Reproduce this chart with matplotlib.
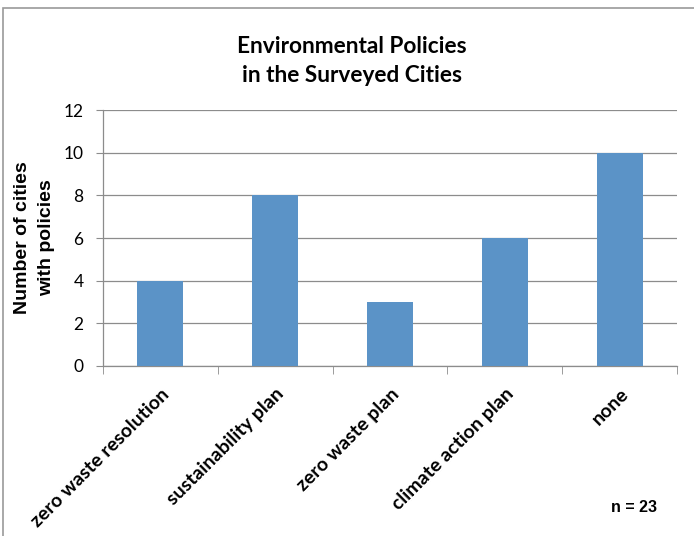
import numpy as np
import matplotlib.pyplot as plt
from matplotlib.patches import Rectangle
from matplotlib.ticker import FixedLocator

# data
categories = ["zero waste resolution", "sustainability plan", "zero waste plan",
              "climate action plan", "none"]
counts = [4, 8, 3, 6, 10]
y_ticks = [0, 2, 4, 6, 8, 10, 12]

BAR_COLOR = "#5b93c7"
GRID_COLOR = "#8c8c8c"

fig = plt.figure(figsize=(6.94, 5.36), dpi=100)
ax = fig.add_axes([103 / 694, 1 - 366 / 536, 574 / 694, 256 / 536])

x = np.arange(len(categories))
ax.bar(x, counts, width=0.40, color=BAR_COLOR, zorder=3)

ax.set_xlim(-0.5, len(categories) - 0.5)
ax.set_ylim(0, 12)
ax.set_yticks(y_ticks)
ax.set_yticklabels([str(t) for t in y_ticks], family="Lato", fontsize=12.5)
ax.yaxis.grid(True, color=GRID_COLOR, linewidth=0.9, zorder=0)

# category labels on major ticks (no marks), boundary ticks as minor
ax.set_xticks(x)
ax.set_xticklabels(categories, rotation=45, ha="right", rotation_mode="anchor",
                   family="Lato", fontweight="bold", fontsize=14)
ax.tick_params(axis="x", which="major", length=0, pad=14)
ax.xaxis.set_minor_locator(FixedLocator(np.arange(-0.5, len(categories), 1.0)))
ax.tick_params(axis="x", which="minor", length=6, color=GRID_COLOR, direction="out")
ax.tick_params(axis="y", length=5, color=GRID_COLOR, direction="out", pad=9)

for s in ["top", "right"]:
    ax.spines[s].set_visible(False)
for s in ["left", "bottom"]:
    ax.spines[s].set_color(GRID_COLOR)
    ax.spines[s].set_linewidth(0.9)

ax.set_ylabel("Number of cities\nwith policies", family="Liberation Sans",
              fontweight="bold", fontsize=14, labelpad=6, linespacing=1.55)

fig.text(352 / 694, 1 - 61 / 536, "Environmental Policies\nin the Surveyed Cities",
         ha="center", va="center", family="Lato", fontweight="bold",
         fontsize=16.3, linespacing=1.42)

fig.text(634 / 694, 1 - 507 / 536, "n = 23", ha="center", va="center",
         family="Liberation Sans", fontweight="bold", fontsize=11.5)

# outer chart frame
fig.patches.append(Rectangle((3 / 694, -0.1), 1.2, 1 - 8 / 536 + 0.1,
                             transform=fig.transFigure, fill=False,
                             edgecolor="#9a9a9a", linewidth=1.2))

fig.savefig("out.png", dpi=100)
